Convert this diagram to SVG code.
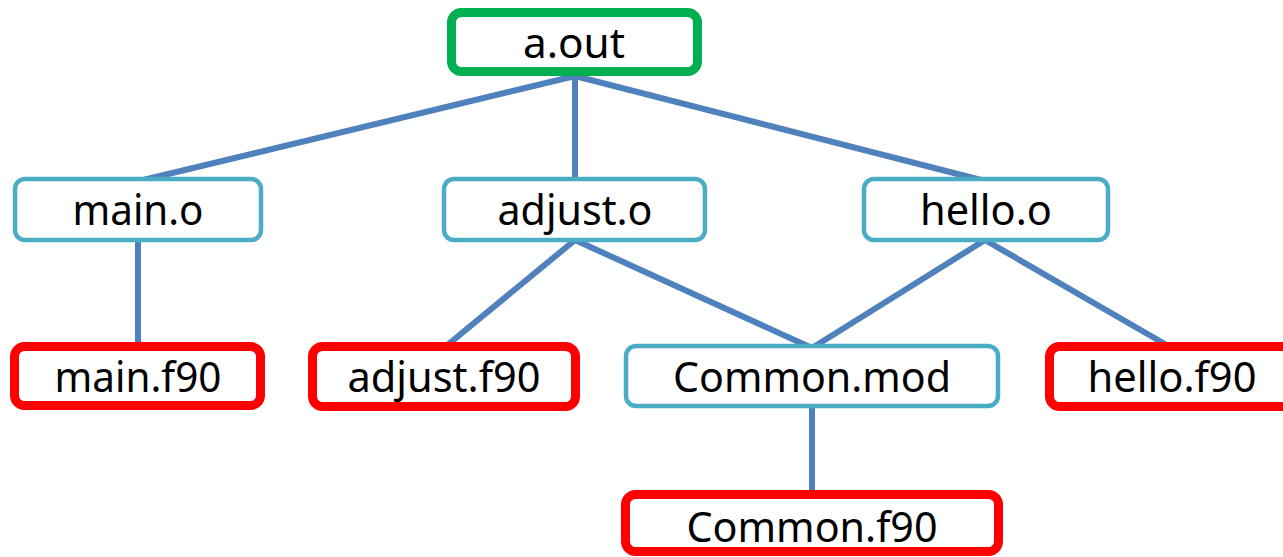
<svg xmlns="http://www.w3.org/2000/svg" width="1283" height="557" viewBox="0 0 1283 557">
<style>
.box{fill:#fff;}
.obj{stroke:#4bacc6;stroke-width:4.5;}
.src{stroke:#ff0000;stroke-width:9;}
.exe{stroke:#00b050;stroke-width:9;}
.lbl{font-family:"Noto Sans","Open Sans",sans-serif;font-size:41px;fill:#000;text-anchor:middle;}
#connectors line{stroke:#4f81bd;stroke-width:6;}
</style>
<rect width="1283" height="557" fill="#fff"/>
<g id="connectors">
<line x1="575" y1="76" x2="139" y2="181"/>
<line x1="575" y1="76" x2="575" y2="180"/>
<line x1="575" y1="76" x2="985" y2="181"/>
<line x1="138" y1="240" x2="138" y2="346"/>
<line x1="575" y1="240" x2="445" y2="347"/>
<line x1="575" y1="240" x2="812" y2="348"/>
<line x1="985" y1="240" x2="812" y2="348"/>
<line x1="985" y1="240" x2="1170" y2="347"/>
<line x1="812" y1="406" x2="812" y2="495"/>
</g>
<g id="a_out"><rect class="box exe" x="451.5" y="12.5" width="246" height="59" rx="10"/><text class="lbl" x="574" y="58" textLength="102" lengthAdjust="spacingAndGlyphs">a.out</text></g>
<g id="main_o"><rect class="box obj" x="15" y="179" width="246" height="61" rx="10"/><text class="lbl" x="138" y="225" textLength="131" lengthAdjust="spacingAndGlyphs">main.o</text></g>
<g id="adjust_o"><rect class="box obj" x="444" y="179" width="261" height="61" rx="10"/><text class="lbl" x="575" y="225" textLength="155" lengthAdjust="spacingAndGlyphs">adjust.o</text></g>
<g id="hello_o"><rect class="box obj" x="864" y="179" width="244" height="61" rx="10"/><text class="lbl" x="986" y="225" textLength="132" lengthAdjust="spacingAndGlyphs">hello.o</text></g>
<g id="main_f90"><rect class="box src" x="14.5" y="346.5" width="246" height="59" rx="10"/><text class="lbl" x="138" y="392" textLength="167" lengthAdjust="spacingAndGlyphs">main.f90</text></g>
<g id="adjust_f90"><rect class="box src" x="312.5" y="346.5" width="263" height="60" rx="10"/><text class="lbl" x="444" y="392" textLength="193" lengthAdjust="spacingAndGlyphs">adjust.f90</text></g>
<g id="common_mod"><rect class="box obj" x="626" y="346" width="372" height="60" rx="10"/><text class="lbl" x="812" y="392" textLength="278" lengthAdjust="spacingAndGlyphs">Common.mod</text></g>
<g id="hello_f90"><rect class="box src" x="1049.5" y="346.5" width="260" height="60" rx="10"/><text class="lbl" x="1172" y="392" textLength="169" lengthAdjust="spacingAndGlyphs">hello.f90</text></g>
<g id="common_f90"><rect class="box src" x="625.5" y="494.5" width="373" height="57" rx="10"/><text class="lbl" x="812" y="542" textLength="251" lengthAdjust="spacingAndGlyphs">Common.f90</text></g>
</svg>
